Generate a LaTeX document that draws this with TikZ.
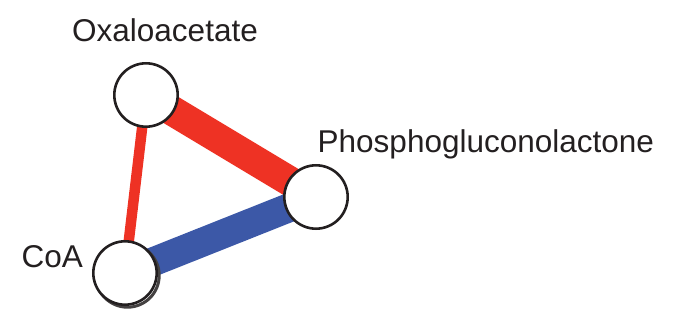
\documentclass[tikz,border=0pt]{standalone}
\usepackage{fontspec}
\setmainfont{Liberation Sans}
\usetikzlibrary{backgrounds}
\definecolor{inkdark}{RGB}{35,31,32}
\definecolor{edgered}{RGB}{238,50,36}
\definecolor{edgeblue}{RGB}{60,88,167}
\tikzset{
  metab/.style={circle, draw=inkdark, line width=2.6pt, fill=white,
                minimum size=63.4pt, inner sep=0pt},
  shade ring/.style={circle, draw=inkdark!85, line width=3pt, fill=white,
                minimum size=63.4pt, inner sep=0pt},
  lbl/.style={anchor=base west, inner sep=0pt, text=inkdark,
              font=\fontsize{31.5}{37}\selectfont},
  link/.style={line cap=butt}
}
\begin{document}
\begin{tikzpicture}[x=1pt,y=-1pt]
  \useasboundingbox (0,0) rectangle (674,320);

  % metabolite nodes
  \node[shade ring] (coashadow) at (127.5,275.5) {};
  \node[metab] (oaa) at (146,95) {};
  \node[metab] (pgl) at (316,197) {};
  \node[metab] (coa) at (125,273) {};

  % correlation edges, drawn behind the nodes
  \begin{scope}[on background layer]
    \draw[link, edgered, line width=30pt] (oaa.center) -- (pgl.center);
    \draw[link, edgeblue, line width=29pt] (coa.center) -- (pgl.center);
    \draw[link, edgered, line width=10.5pt] (oaa.center) -- (coa.center);
  \end{scope}

  % labels
  \node[lbl] (oaalbl) at (72,42) {Oxaloacetate};
  \node[lbl] (pgllbl) at (317.5,153) {Phosphogluconolactone};
  \node[lbl] (coalbl) at (21.5,267) {CoA};
\end{tikzpicture}
\end{document}
